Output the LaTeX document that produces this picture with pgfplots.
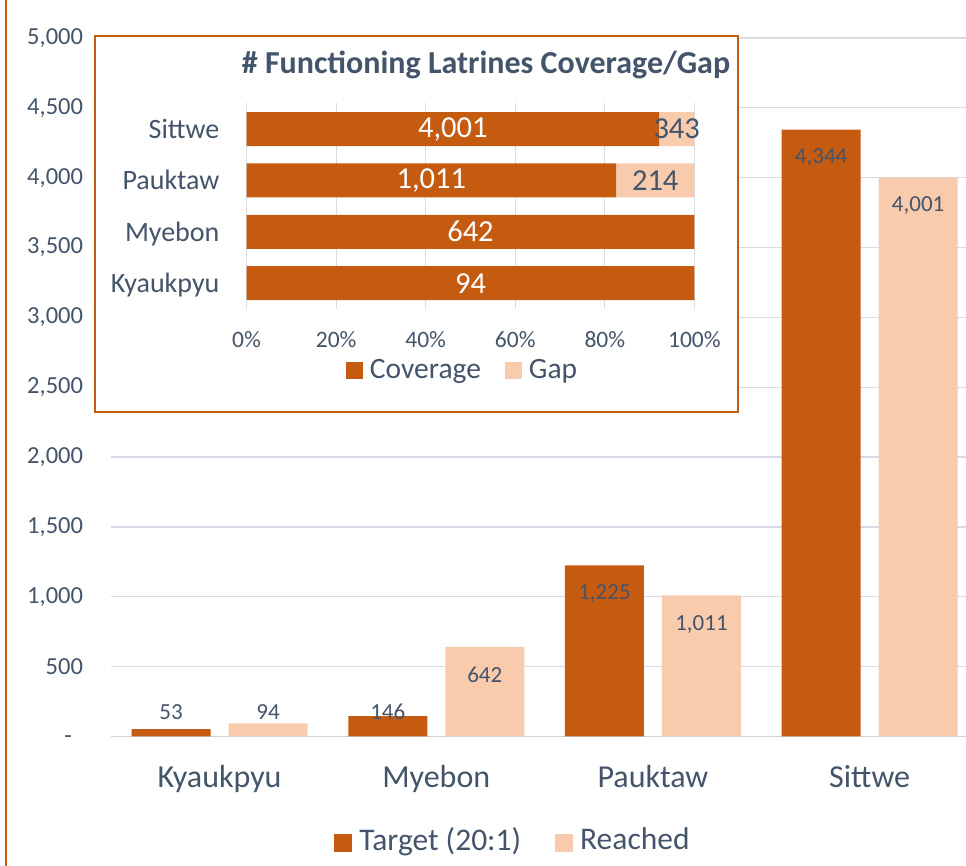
\documentclass[border=0pt]{standalone}
\usepackage{fontspec}
\setmainfont{Carlito}
\usepackage{pgfplots}
\usepackage{pgfplotstable}
\pgfplotsset{compat=1.18}
\definecolor{dkor}{RGB}{197,90,17}
\definecolor{ltor}{RGB}{248,203,173}
\definecolor{txt}{RGB}{68,84,106}
\definecolor{grd}{RGB}{215,220,228}
\definecolor{basegrd}{RGB}{205,211,220}

% main chart: where each value label sits (x, y, text)
\pgfplotstableread{
x y lab
-0.2238 175 53
0.7762 175 146
1.7762 1021 {1,225}
2.7762 4141 {4,344}
0.2238 175 94
1.2238 440 642
2.2238 805 {1,011}
3.2238 3801 {4,001}
}\mainlabels

\newcommand{\fs}[1]{\fontsize{#1pt}{#1pt}\selectfont}

\begin{document}
\begin{tikzpicture}
\path[use as bounding box] (0pt,0pt) rectangle (966pt,866pt);

% outer chart border (left edge only visible)
\draw[dkor, line width=2pt] (5.7pt,0pt) -- (5.7pt,866pt);

\begin{axis}[
    at={(111.2pt,129.5pt)}, anchor=south west,
    scale only axis, width=866.8pt, height=698.5pt,
    xmin=-0.5, xmax=3.5, ymin=0, ymax=5000,
    xtick={0,1,2,3}, xticklabels={Kyaukpyu,Myebon,Pauktaw,Sittwe},
    ytick={0,500,...,5000},
    yticklabels={{-\rule{0pt}{15pt}\hphantom{\rule{11pt}{1pt}}},500,{1,000},{1,500},{2,000},{2,500},{3,000},{3,500},{4,000},{4,500},{5,000}},
    ymajorgrids, grid style={grd, line width=1.2pt},
    major tick length=0pt,
    axis line style={draw=none},
    xticklabel style={font=\fs{32}, text=txt, anchor=base, yshift=-51.5pt, inner sep=0pt},
    yticklabel style={font=\fs{24.5}, text=txt, anchor=east, xshift=-28pt, inner sep=0pt},
    extra y ticks={0}, extra y tick labels={},
    extra y tick style={grid style={basegrd, line width=1.6pt}},
    legend style={at={(0.4624,-0.148)}, anchor=center, draw=none, fill=none,
        font=\fs{31.5}, text=txt, legend columns=2, nodes={inner sep=0pt},
        /tikz/every odd column/.append style={column sep=7pt},
        /tikz/every even column/.append style={column sep=34pt}},
    legend image code/.code={\fill[#1] (0pt,-12.6pt) rectangle (18pt,5.4pt);},
]
\addplot[ybar, bar width=79pt, bar shift=-48.5pt, fill=dkor, draw=none]
    coordinates {(0,53) (1,146) (2,1225) (3,4344)};
\addplot[ybar, bar width=79pt, bar shift=48.5pt, fill=ltor, draw=none]
    coordinates {(0,94) (1,642) (2,1011) (3,4001)};
\legend{Target (20:1), Reached}
\addplot[draw=none, mark=none, forget plot, nodes near coords,
    point meta=explicit symbolic,
    every node near coord/.append style={anchor=center, font=\fs{23}, text=txt, inner sep=0pt}]
    table[x=x, y=y, meta=lab] {\mainlabels};
\end{axis}

% inset chart frame
\draw[dkor, line width=2pt, fill=white] (95pt,830pt) rectangle (738pt,454pt);

\begin{axis}[
    at={(246.6pt,557.2pt)}, anchor=south west,
    scale only axis, width=447.8pt, height=205.4pt,
    xbar stacked, bar width=34pt,
    xmin=0, xmax=100, ymin=-0.5, ymax=3.5,
    xtick={0,20,...,100}, xticklabels={0\%,20\%,40\%,60\%,80\%,100\%},
    ytick={0,1,2,3}, yticklabels={Kyaukpyu,Myebon,Pauktaw,Sittwe},
    xmajorgrids, grid style={grd, line width=1.2pt},
    major tick length=0pt,
    axis line style={draw=none},
    xticklabel style={font=\fs{23.5}, text=txt, anchor=base, yshift=-39.2pt, inner sep=0pt},
    yticklabel style={font=\fs{28}, text=txt, anchor=base east, xshift=-27pt, yshift=-9.3pt, inner sep=0pt},
    title={\# Functioning Latrines Coverage/Gap},
    title style={at={(0.5346,1)}, anchor=base, yshift=23.4pt, inner sep=0pt,
        font=\fs{32}\bfseries, text=txt},
    legend style={at={(0.48,-0.298)}, anchor=center, draw=none, fill=none,
        font=\fs{29.5}, text=txt, legend columns=2, nodes={inner sep=0pt},
        /tikz/every odd column/.append style={column sep=7pt},
        /tikz/every even column/.append style={column sep=24pt}},
    legend image code/.code={\fill[#1] (0pt,-9pt) rectangle (17pt,8pt);},
]
\addplot[fill=dkor, draw=none] coordinates {(100,0) (100,1) (82.5,2) (92.1,3)};
\addplot[fill=ltor, draw=none] coordinates {(0,0) (0,1) (17.5,2) (7.9,3)};
\legend{Coverage, Gap}
\end{axis}

% inset value labels
\begin{axis}[
    at={(246.6pt,557.2pt)}, anchor=south west,
    scale only axis, width=447.8pt, height=205.4pt,
    xmin=0, xmax=100, ymin=-0.5, ymax=3.5, hide axis,
]
\addplot[draw=none, mark=none, nodes near coords, point meta=explicit symbolic,
    every node near coord/.append style={anchor=center, font=\fs{30.5}, text=white, inner sep=0pt}]
    table[meta=lab] {
x y lab
50 0 94
50 1 642
41.25 2 {1,011}
46.05 3 {4,001}
};
\addplot[draw=none, mark=none, nodes near coords, point meta=explicit symbolic,
    every node near coord/.append style={anchor=center, font=\fs{30.5}, text=txt, inner sep=0pt}]
    table[meta=lab] {
x y lab
91.25 2 214
96.05 3 343
};
\end{axis}
\end{tikzpicture}
\end{document}
